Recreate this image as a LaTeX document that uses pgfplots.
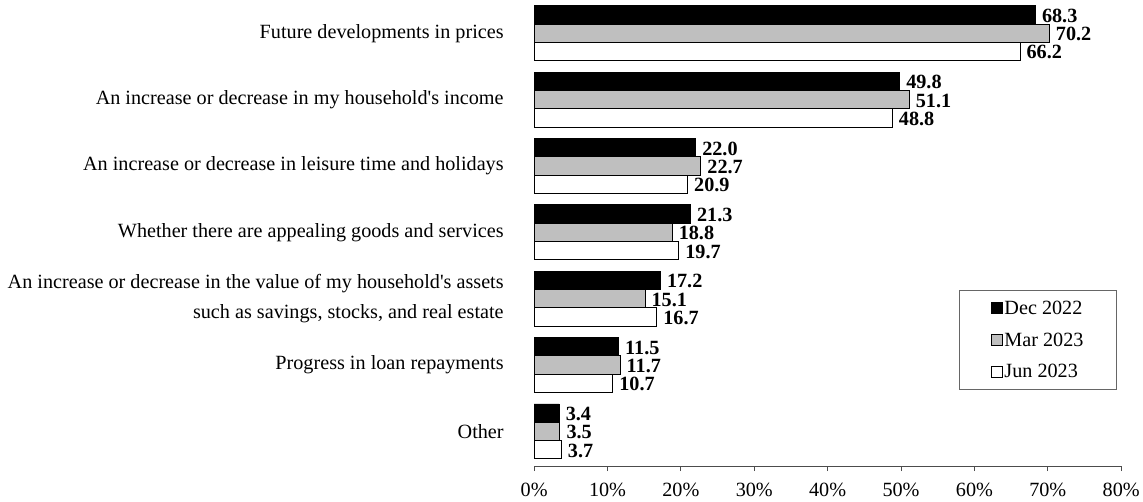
\documentclass[border=0pt]{standalone}
\usepackage{pgfplots}
\pgfplotsset{compat=1.18}
\usepackage{fontspec}
\setmainfont{Liberation Serif}
\begin{document}
\begin{tikzpicture}[x=1bp,y=1bp]
\begin{axis}[
  scale only axis,
  width=588bp, height=467bp,
  xbar, bar width=0.275,
  xmin=0, xmax=80,
  ymin=-0.526, ymax=6.5,
  xtick={0,10,...,80},
  xticklabel={\pgfmathprintnumber{\tick}\%},
  /pgf/number format/assume math mode=true,
  ytick={0,...,6},
  yticklabels={Other, Progress in loan repayments, {An increase or decrease in the value of my household\textquotesingle s assets\\such as savings, stocks, and real estate}, Whether there are appealing goods and services, An increase or decrease in leisure time and holidays, An increase or decrease in my household\textquotesingle s income, Future developments in prices},
  yticklabel style={align=right, font=\fontsize{20.3}{30}\selectfont, xshift=-22bp},
  xticklabel style={font=\fontsize{20.3}{24}\selectfont, yshift=-8bp},
  axis x line*=bottom, axis y line*=left,
  x axis line style={black!70, line width=0.8bp},
  y axis line style={draw=none},
  ytick style={draw=none},
  xtick style={black!70, line width=0.8bp},
  tick align=outside, major tick length=5bp,
  clip=false,
  nodes near coords,
  nodes near coords style={font=\bfseries\fontsize{20.3}{24}\selectfont, anchor=west, xshift=3bp, yshift=-1bp,
     /pgf/number format/.cd, fixed, precision=1, zerofill},
  every axis plot/.append style={draw=black, line width=0.8bp},
  legend style={at={(0.7245,0.377)}, anchor=north west, draw=black!60, line width=0.6bp,
     font=\fontsize{20.3}{24}\selectfont, row sep=13bp, inner xsep=31bp, inner ysep=8bp,
     minimum width=0bp},
  legend cell align=left,
  legend image code/.code={\draw[#1, line width=0.8bp] (-2bp,-5.5bp) rectangle (9bp,5.5bp);},
]
\addplot[fill=black, bar shift=0.275] coordinates {(3.4,0) (11.5,1) (17.2,2) (21.3,3) (22.0,4) (49.8,5) (68.3,6)};
\addplot[fill=black!25, bar shift=0] coordinates {(3.5,0) (11.7,1) (15.1,2) (18.8,3) (22.7,4) (51.1,5) (70.2,6)};
\addplot[fill=white, bar shift=-0.275] coordinates {(3.7,0) (10.7,1) (16.7,2) (19.7,3) (20.9,4) (48.8,5) (66.2,6)};
\legend{Dec 2022, Mar 2023, Jun 2023}
\end{axis}
\path (-535bp,-35bp) rectangle (608bp,467bp);
\end{tikzpicture}
\end{document}
